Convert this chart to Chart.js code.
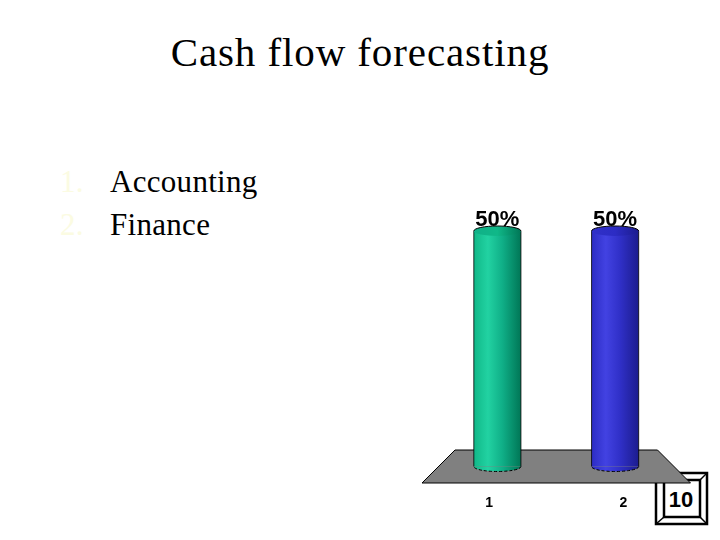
<!DOCTYPE html>
<html>
<head>
<meta charset="utf-8">
<script src="https://cdn.jsdelivr.net/npm/chart.js@4/dist/chart.umd.min.js"></script>
<style>
  html, body { margin:0; padding:0; background:#fff; }
  #wrap { position:relative; width:720px; height:540px; overflow:hidden; background:#fff; }
  #c { position:absolute; left:0; top:0; z-index:2; }
  .t { position:absolute; font-family:"Liberation Serif","Times New Roman",serif; line-height:1; white-space:nowrap; color:#000; }
  #title { left:0; width:720px; text-align:center; top:32px; font-size:41px; letter-spacing:0.9px; }
  .li { font-size:31px; letter-spacing:0.3px; }
  .num { color:#fbfbe2; }
  #box { position:absolute; left:0; top:0; z-index:1; }
</style>
</head>
<body>
<div id="wrap">
  <div id="title" class="t">Cash flow forecasting</div>
  <div class="t li num" style="left:60px; top:166px;">1.</div>
  <div class="t li" style="left:110px; top:166px;">Accounting</div>
  <div class="t li num" style="left:60px; top:209px;">2.</div>
  <div class="t li" style="left:110px; top:209px;">Finance</div>
  <svg id="box" width="720" height="540">
    <rect x="656" y="473" width="51" height="51" fill="#fff" stroke="#000" stroke-width="2.5"/>
    <rect x="664" y="480" width="36" height="37" fill="#fff" stroke="#000" stroke-width="2.5"/>
    <line x1="656" y1="473" x2="664" y2="480" stroke="#000" stroke-width="1.5"/>
    <line x1="707" y1="473" x2="700" y2="480" stroke="#000" stroke-width="1.5"/>
    <line x1="656" y1="524" x2="664" y2="517" stroke="#000" stroke-width="1.5"/>
    <line x1="707" y1="524" x2="700" y2="517" stroke="#000" stroke-width="1.5"/>
    <text x="681" y="507" text-anchor="middle" font-family="Liberation Sans, Arial, sans-serif" font-weight="bold" font-size="22">10</text>
  </svg>
  <canvas id="c" width="720" height="540"></canvas>
</div>
<script>
const categories = ['1', '2'];
const values = [50, 50];
const valueLabels = ['50%', '50%'];
const seriesColors = [
  ['#10b888', '#22d2a2', '#10b088', '#007656'],
  ['#2c2cc4', '#4242e2', '#3030c8', '#1c1c8e']
];
const yMax = 50;

const DEPTH = 16.5;
const BAR_FRACTION = 0.4;

function barGradient(ctx, cx, w, stops) {
  const g = ctx.createLinearGradient(cx - w / 2, 0, cx + w / 2, 0);
  g.addColorStop(0, stops[0]);
  g.addColorStop(0.3, stops[1]);
  g.addColorStop(0.6, stops[2]);
  g.addColorStop(1, stops[3]);
  return g;
}

const cylinderPlugin = {
  id: 'cylinder',
  beforeDatasetsDraw(chart) {
    const ctx = chart.ctx;
    const area = chart.chartArea;
    const base = chart.scales.y.getPixelForValue(0);
    ctx.save();
    ctx.beginPath();
    ctx.moveTo(area.left + DEPTH, base - DEPTH);
    ctx.lineTo(area.right - DEPTH, base - DEPTH);
    ctx.lineTo(area.right + DEPTH, base + DEPTH);
    ctx.lineTo(area.left - DEPTH, base + DEPTH);
    ctx.closePath();
    ctx.fillStyle = '#808080';
    ctx.fill();
    ctx.strokeStyle = '#000';
    ctx.lineWidth = 1;
    ctx.stroke();
    ctx.restore();
  },
  afterDatasetsDraw(chart) {
    const ctx = chart.ctx;
    const area = chart.chartArea;
    const meta = chart.getDatasetMeta(0);
    ctx.save();
    meta.data.forEach((bar, i) => {
      const p = bar.getProps(['x', 'y', 'base', 'width'], true);
      const rx = p.width / 2, ry = 5;
      const grad = barGradient(ctx, p.x, p.width, seriesColors[i]);
      ctx.beginPath();
      ctx.ellipse(p.x, p.base, rx, ry, 0, 0, Math.PI, false);
      ctx.closePath();
      ctx.fillStyle = grad;
      ctx.fill();
      ctx.beginPath();
      ctx.ellipse(p.x, p.base, rx, ry, 0, 0, Math.PI, false);
      ctx.setLineDash([3, 2]);
      ctx.strokeStyle = '#000';
      ctx.lineWidth = 1;
      ctx.stroke();
      ctx.setLineDash([]);
      ctx.beginPath();
      ctx.moveTo(p.x - rx, p.y);
      ctx.lineTo(p.x - rx, p.base);
      ctx.moveTo(p.x + rx, p.y);
      ctx.lineTo(p.x + rx, p.base);
      ctx.strokeStyle = 'rgba(0,0,0,0.8)';
      ctx.stroke();
      const tg = ctx.createLinearGradient(p.x - rx, 0, p.x + rx, 0);
      tg.addColorStop(0, seriesColors[i][2]);
      tg.addColorStop(0.5, seriesColors[i][0]);
      tg.addColorStop(1, seriesColors[i][3]);
      ctx.beginPath();
      ctx.ellipse(p.x, p.y, rx, ry, 0, 0, Math.PI * 2);
      ctx.fillStyle = tg;
      ctx.fill();
      ctx.beginPath();
      ctx.ellipse(p.x, p.y, rx, ry, 0, Math.PI, Math.PI * 2);
      ctx.strokeStyle = '#000';
      ctx.stroke();
      ctx.fillStyle = '#000';
      ctx.font = 'bold 22px "Liberation Sans", Arial, sans-serif';
      ctx.textAlign = 'center';
      ctx.textBaseline = 'alphabetic';
      ctx.fillText(valueLabels[i], p.x, p.y - 5);
      const frac = (p.x - area.left) / (area.right - area.left);
      const lx = (area.left - DEPTH) + frac * (area.right - area.left + 2 * DEPTH);
      ctx.font = 'bold 14px "Liberation Sans", Arial, sans-serif';
      ctx.textBaseline = 'middle';
      ctx.fillText(categories[i], lx, 503);
    });
    ctx.restore();
  }
};

new Chart(document.getElementById('c'), {
  type: 'bar',
  data: {
    labels: categories,
    datasets: [{
      data: values,
      backgroundColor: (c) => {
        const chart = c.chart;
        const xs = chart.scales.x;
        if (!chart.chartArea || !xs) return seriesColors[c.dataIndex][1];
        const cx = xs.getPixelForValue(c.dataIndex);
        const w = (xs.width / categories.length) * BAR_FRACTION;
        return barGradient(chart.ctx, cx, w, seriesColors[c.dataIndex]);
      },
      borderWidth: 0,
      barPercentage: BAR_FRACTION,
      categoryPercentage: 1
    }]
  },
  plugins: [cylinderPlugin],
  options: {
    responsive: false,
    animation: false,
    layout: { padding: { left: 438.5, right: 46, top: 231, bottom: 73.5 } },
    plugins: { legend: { display: false }, tooltip: { enabled: false }, title: { display: false } },
    scales: {
      x: { display: false, grid: { display: false } },
      y: { display: false, min: 0, max: yMax, grid: { display: false } }
    }
  }
});
</script>
</body>
</html>
